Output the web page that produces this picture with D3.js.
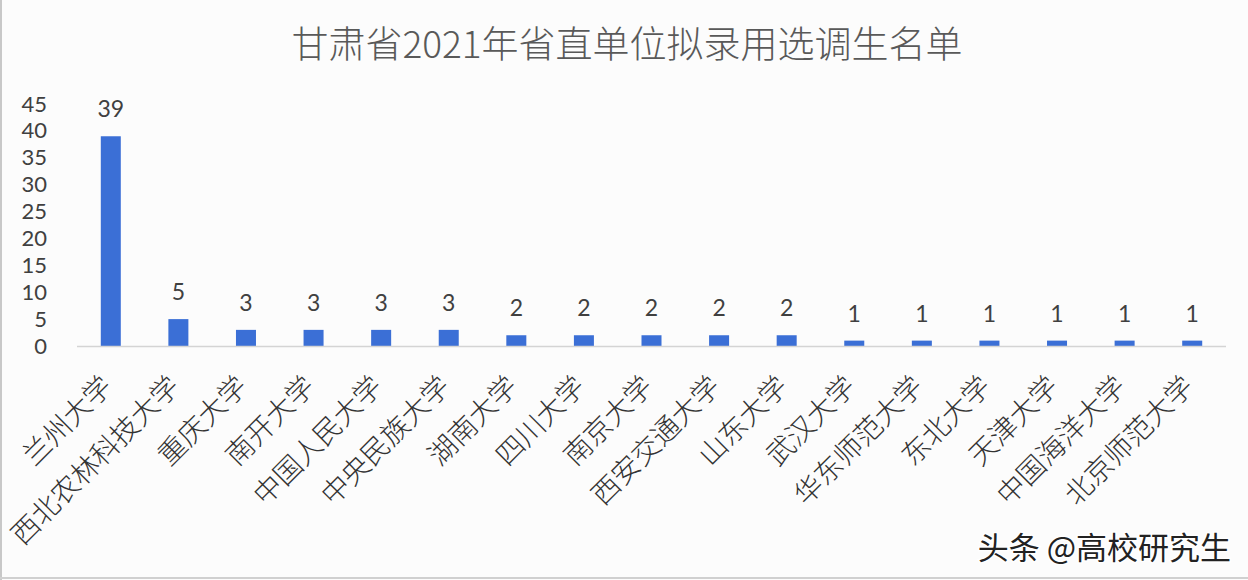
<!DOCTYPE html>
<html>
<head>
<meta charset="utf-8">
<script src="https://cdn.jsdelivr.net/npm/d3@7"></script>
<style>
  body { margin: 0; background: #fcfcfc; }
  svg { display: block; font-family: "Noto Sans CJK SC", "Noto Sans", sans-serif; }
</style>
</head>
<body>
<div id="chart"></div>
<script>
const width = 1248, height = 580;

// data
const schools = ["兰州大学", "西北农林科技大学", "重庆大学", "南开大学", "中国人民大学", "中央民族大学",
  "湖南大学", "四川大学", "南京大学", "西安交通大学", "山东大学", "武汉大学", "华东师范大学",
  "东北大学", "天津大学", "中国海洋大学", "北京师范大学"];
const counts = [39, 5, 3, 3, 3, 3, 2, 2, 2, 2, 2, 1, 1, 1, 1, 1, 1];
const yTicks = [0, 5, 10, 15, 20, 25, 30, 35, 40, 45];
const title = "甘肃省2021年省直单位拟录用选调生名单";
const watermark = "头条 @高校研究生";

const svg = d3.select("#chart")
  .append("svg")
  .attr("width", width)
  .attr("height", height);

svg.append("rect")
  .attr("width", width)
  .attr("height", height)
  .attr("fill", "#fcfcfc");

// faint frame lines from the screenshot
svg.append("line")
  .attr("x1", 1).attr("x2", 1).attr("y1", 0).attr("y2", height)
  .attr("stroke", "#c8c8c8").attr("stroke-width", 2);
svg.append("line")
  .attr("x1", 0).attr("x2", width).attr("y1", 578).attr("y2", 578)
  .attr("stroke", "#d0d0d0").attr("stroke-width", 2);

const x = d3.scaleBand()
  .domain(schools)
  .range([77, 1226])
  .paddingInner(0.704)
  .paddingOuter(0.352);

const y = d3.scaleLinear()
  .domain([0, 45])
  .range([346, 104]);

// title
svg.append("text")
  .attr("x", 627)
  .attr("y", 58)
  .attr("text-anchor", "middle")
  .attr("font-size", 37)
  .attr("font-weight", 300)
  .attr("fill", "#595959")
  .text(title);

// y axis (labels only)
const yAxis = d3.axisLeft(y)
  .tickValues(yTicks)
  .tickSize(0)
  .tickPadding(0);

const gy = svg.append("g")
  .attr("transform", "translate(47,0)")
  .call(yAxis);
gy.select(".domain").remove();
gy.selectAll("text")
  .attr("font-size", 22)
  .attr("font-family", "Lato, sans-serif")
  .attr("fill", "#404040");

// bars
svg.append("g")
  .selectAll("rect")
  .data(counts)
  .enter().append("rect")
  .attr("x", (d, i) => x(schools[i]))
  .attr("y", d => y(d))
  .attr("width", x.bandwidth())
  .attr("height", d => y(0) - y(d))
  .attr("fill", "#3b6fd6");

// baseline
svg.append("line")
  .attr("x1", 77).attr("x2", 1226)
  .attr("y1", y(0) + 0.5).attr("y2", y(0) + 0.5)
  .attr("stroke", "#d4d4d4")
  .attr("stroke-width", 1.5);

// value labels
svg.append("g")
  .selectAll("text")
  .data(counts)
  .enter().append("text")
  .attr("x", (d, i) => x(schools[i]) + x.bandwidth() / 2)
  .attr("y", d => y(d) - 19)
  .attr("text-anchor", "middle")
  .attr("font-size", 23)
  .attr("font-family", "Lato, sans-serif")
  .attr("fill", "#404040")
  .text(d => d);

// category labels, rotated
svg.append("g")
  .selectAll("text")
  .data(schools)
  .enter().append("text")
  .attr("transform", d => `translate(${x(d) + x.bandwidth() / 2 + 3},388) rotate(-45)`)
  .attr("text-anchor", "end")
  .attr("font-size", 28)
  .attr("font-weight", 300)
  .attr("fill", "#333")
  .text(d => d);

// watermark
svg.append("text")
  .attr("x", 1231)
  .attr("y", 559)
  .attr("text-anchor", "end")
  .attr("font-size", 31)
  .attr("fill", "#222")
  .attr("stroke", "#fff")
  .attr("stroke-width", 3)
  .attr("paint-order", "stroke")
  .text(watermark);
</script>
</body>
</html>
